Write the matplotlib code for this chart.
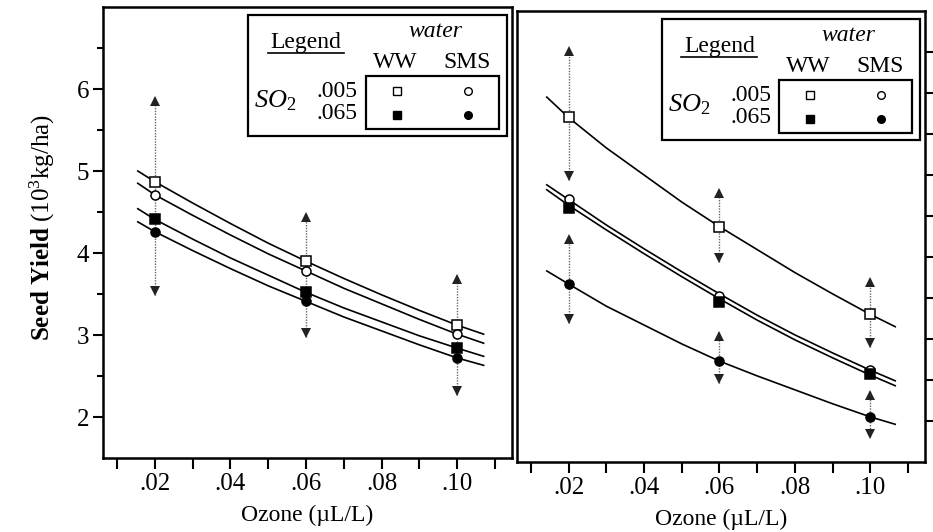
import matplotlib
matplotlib.use('Agg')
import matplotlib.pyplot as plt
import matplotlib.transforms as mtransforms
from matplotlib.patches import Rectangle
from matplotlib.lines import Line2D
from matplotlib.ticker import FixedLocator

plt.rcParams['font.family'] = ['Liberation Serif', 'DejaVu Serif']
plt.rcParams['mathtext.fontset'] = 'custom'
plt.rcParams['mathtext.rm'] = 'Liberation Serif'
plt.rcParams['mathtext.it'] = 'Liberation Serif:italic'
plt.rcParams['mathtext.bf'] = 'Liberation Serif:bold'

# ozone levels where treatments were measured
ozone = [0.02, 0.06, 0.10]

# left panel: fitted curves
curve_x_left = [0.0155, 0.02, 0.03, 0.04, 0.05, 0.06, 0.07, 0.08, 0.09, 0.10, 0.107]
left_ww_005 = [5.00, 4.87, 4.61, 4.36, 4.12, 3.90, 3.69, 3.49, 3.30, 3.12, 3.01]
left_sms_005 = [4.85, 4.71, 4.46, 4.22, 3.99, 3.78, 3.57, 3.38, 3.19, 3.01, 2.90]
left_ww_065 = [4.54, 4.41, 4.17, 3.94, 3.73, 3.52, 3.33, 3.16, 2.99, 2.84, 2.74]
left_sms_065 = [4.38, 4.26, 4.03, 3.81, 3.60, 3.41, 3.22, 3.05, 2.88, 2.72, 2.63]

# left panel: plotted means
left_pts_ww_005 = [4.87, 3.90, 3.12]
left_pts_sms_005 = [4.71, 3.78, 3.01]
left_pts_ww_065 = [4.41, 3.52, 2.84]
left_pts_sms_065 = [4.26, 3.41, 2.72]

# left panel: arrow bars (tip values)
left_bar_x = [0.02, 0.06, 0.10]
left_bar_hi = [5.90, 4.49, 3.73]
left_bar_lo = [3.49, 2.98, 2.27]

# right panel: fitted curves
curve_x_right = [0.0142, 0.02, 0.03, 0.04, 0.05, 0.06, 0.07, 0.08, 0.09, 0.10, 0.1066]
right_ww_005 = [5.95, 5.70, 5.33, 5.00, 4.67, 4.37, 4.09, 3.81, 3.55, 3.30, 3.15]
right_sms_005 = [4.88, 4.70, 4.39, 4.10, 3.82, 3.55, 3.29, 3.05, 2.83, 2.62, 2.49]
right_ww_065 = [4.82, 4.63, 4.33, 4.04, 3.76, 3.49, 3.23, 2.99, 2.77, 2.56, 2.43]
right_sms_065 = [3.83, 3.67, 3.40, 3.17, 2.94, 2.73, 2.55, 2.38, 2.21, 2.05, 1.96]

# right panel: plotted means
right_pts_ww_005 = [5.71, 4.37, 3.30]
right_pts_sms_005 = [4.71, 3.53, 2.62]
right_pts_ww_065 = [4.60, 3.45, 2.57]
right_pts_sms_065 = [3.67, 2.73, 2.05]

# right panel: arrow bars
right_bar_x = [0.02, 0.02, 0.06, 0.06, 0.10, 0.10]
right_bar_hi = [6.56, 4.27, 4.83, 3.09, 3.74, 2.37]
right_bar_lo = [4.94, 3.20, 3.94, 2.46, 2.90, 1.80]

x_major = [0.02, 0.04, 0.06, 0.08, 0.10]
x_labels = ['.02', '.04', '.06', '.08', '.10']
x_minor = [0.01, 0.03, 0.05, 0.07, 0.09, 0.11]
y_major = [2, 3, 4, 5, 6]
y_minor = [2.5, 3.5, 4.5, 5.5, 6.5]

W, H = 933, 532
fig = plt.figure(figsize=(W / 100, H / 100), dpi=100)
ax_l = fig.add_axes([103 / W, (H - 458) / H, 409 / W, 451 / H])
ax_r = fig.add_axes([517 / W, (H - 462) / H, 408 / W, 451 / H])


def draw_bars(ax, xs, his, los):
    up = mtransforms.offset_copy(ax.transData, fig=fig, y=-2.8, units='points')
    down = mtransforms.offset_copy(ax.transData, fig=fig, y=2.8, units='points')
    for x, hi, lo in zip(xs, his, los):
        ax.plot([x, x], [lo, hi], ls=(0, (1, 1)), color='#666666', lw=1.0, zorder=1)
        ax.plot([x], [hi], marker='^', ms=6.5, color='#222222', mew=0,
                transform=up, zorder=2)
        ax.plot([x], [lo], marker='v', ms=6.5, color='#222222', mew=0,
                transform=down, zorder=2)


def draw_series(ax, cx, curves, pts):
    styles = [('s', 'white'), ('o', 'white'), ('s', 'black'), ('o', 'black')]
    for cy in curves:
        ax.plot(cx, cy, color='black', lw=1.2, zorder=3)
    for py, (m, fc) in zip(pts, styles):
        ax.plot(ozone, py, ls='none', marker=m, ms=6.5,
                mfc=fc, mec='black', mew=1.1, zorder=4)


def draw_legend(ax):
    tr = ax.transAxes
    ax.add_patch(Rectangle((0.3545, 0.714), 0.633, 0.268, transform=tr,
                           fill=False, lw=1.6, ec='black', zorder=5))
    ax.add_patch(Rectangle((0.643, 0.7295), 0.325, 0.1175, transform=tr,
                           fill=False, lw=1.6, ec='black', zorder=5))
    ax.text(0.496, 0.922, 'Legend', transform=tr, ha='center', va='center',
            fontsize=17)
    ax.add_line(Line2D([0.403, 0.589], [0.899, 0.899], transform=tr,
                       color='black', lw=1.2))
    ax.text(0.812, 0.946, 'water', transform=tr, ha='center', va='center',
            fontsize=17, style='italic')
    ax.text(0.714, 0.878, 'WW', transform=tr, ha='center', va='center', fontsize=17)
    ax.text(0.890, 0.878, 'SMS', transform=tr, ha='center', va='center', fontsize=17)
    ax.text(0.370, 0.792, r'$SO_2$', transform=tr, ha='left', va='center',
            fontsize=19)
    ax.text(0.623, 0.8137, '.005', transform=tr, ha='right', va='center', fontsize=17)
    ax.text(0.623, 0.763, '.065', transform=tr, ha='right', va='center', fontsize=17)
    for (m, fc), fx, fy in [(('s', 'white'), 0.719, 0.8137), (('o', 'white'), 0.892, 0.8137),
                            (('s', 'black'), 0.719, 0.7605), (('o', 'black'), 0.892, 0.7605)]:
        ax.plot([fx], [fy], transform=tr, marker=m, ms=5.5, mfc=fc, mec='black',
                mew=1.0, ls='none', zorder=6)


for ax in (ax_l, ax_r):
    ax.set_xlim(0.0063, 0.1145)
    ax.set_ylim(1.5, 7.0)
    for s in ax.spines.values():
        s.set_linewidth(1.8)
    ax.xaxis.set_major_locator(FixedLocator(x_major))
    ax.xaxis.set_minor_locator(FixedLocator(x_minor))
    ax.set_xticklabels(x_labels)
    ax.tick_params(axis='x', which='both', direction='out', length=8, width=1.5,
                   labelsize=18, pad=3, top=False)
    ax.set_xlabel('Ozone (µL/L)', fontsize=17, labelpad=7)

draw_bars(ax_l, left_bar_x, left_bar_hi, left_bar_lo)
draw_series(ax_l, curve_x_left, [left_ww_005, left_sms_005, left_ww_065, left_sms_065],
            [left_pts_ww_005, left_pts_sms_005, left_pts_ww_065, left_pts_sms_065])
draw_legend(ax_l)

ax_l.yaxis.set_major_locator(FixedLocator(y_major))
ax_l.yaxis.set_minor_locator(FixedLocator(y_minor))
ax_l.tick_params(axis='y', which='major', direction='out', length=7, width=1.5,
                 labelsize=18, pad=3, right=False)
ax_l.tick_params(axis='y', which='minor', direction='out', length=4, width=1.5,
                 right=False)

draw_bars(ax_r, right_bar_x, right_bar_hi, right_bar_lo)
draw_series(ax_r, curve_x_right, [right_ww_005, right_sms_005, right_ww_065, right_sms_065],
            [right_pts_ww_005, right_pts_sms_005, right_pts_ww_065, right_pts_sms_065])
draw_legend(ax_r)

ax_r.yaxis.tick_right()
ax_r.yaxis.set_major_locator(FixedLocator(y_major + y_minor))
ax_r.tick_params(axis='y', which='both', direction='out', length=7, width=1.5,
                 labelright=False, left=False)

fig.text(42 / W, 1 - 228 / H, r'$\mathbf{Seed\ Yield}$ (10$^3$kg/ha)', rotation=90,
         ha='center', va='center', fontsize=18)

fig.savefig('out.png', dpi=100)
